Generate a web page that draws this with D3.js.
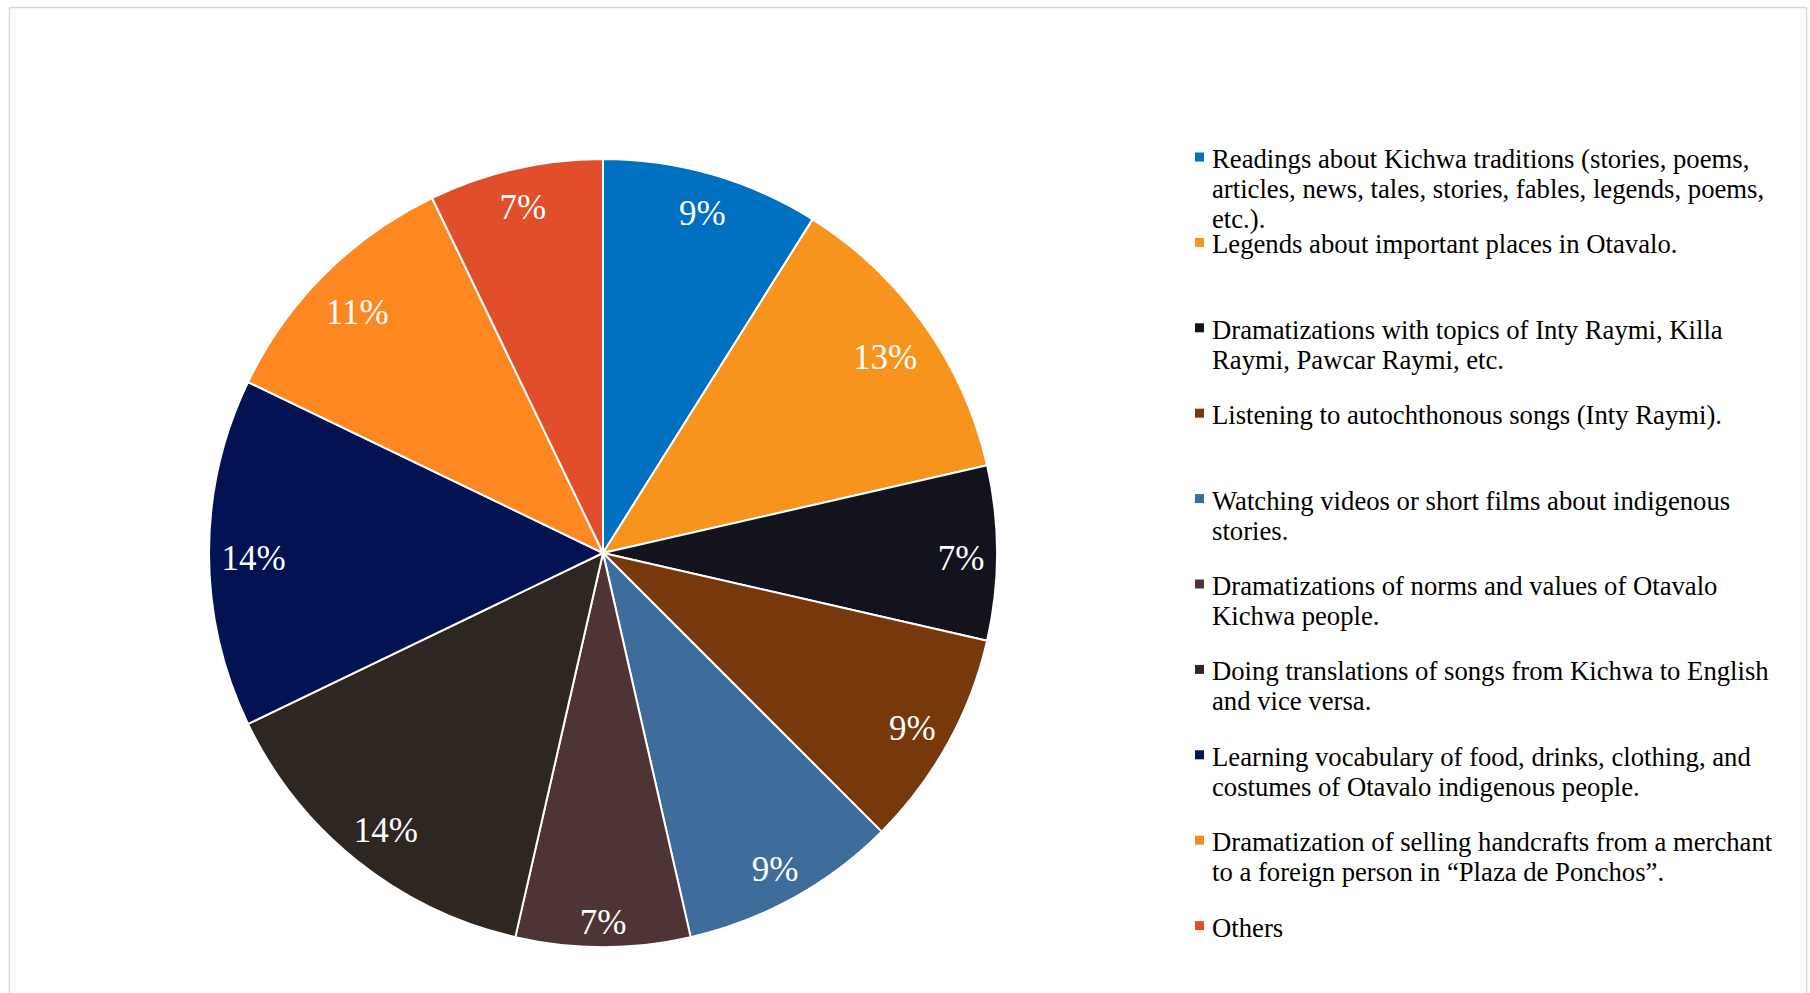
<!DOCTYPE html>
<html>
<head>
<meta charset="utf-8">
<script src="https://cdn.jsdelivr.net/npm/d3@7"></script>
<style>
  html, body { margin: 0; padding: 0; background: #fff; }
  svg { display: block; }
</style>
</head>
<body>
<svg id="chart" width="1810" height="993"></svg>
<script>
// Activity categories (legend text, with its line breaks)
const categories = [
  "Readings about Kichwa traditions (stories, poems,\narticles, news, tales, stories, fables, legends, poems,\netc.).",
  "Legends about important places in Otavalo.",
  "Dramatizations with topics of Inty Raymi, Killa\nRaymi, Pawcar Raymi, etc.",
  "Listening to autochthonous songs (Inty Raymi).",
  "Watching videos or short films about indigenous\nstories.",
  "Dramatizations of norms and values of Otavalo\nKichwa people.",
  "Doing translations of songs from Kichwa to English\nand vice versa.",
  "Learning vocabulary of food, drinks, clothing, and\ncostumes of Otavalo indigenous people.",
  "Dramatization of selling handcrafts from a merchant\nto a foreign person in \u201cPlaza de Ponchos\u201d.",
  "Others"
];

// Number of responses per activity (56 in total)
const responses = [5, 7, 4, 5, 5, 4, 8, 8, 6, 4];

const sliceColors = [
  "#0070C0", "#F7941D", "#12131D", "#77390B", "#3E6C9B",
  "#4F3435", "#2E2620", "#021253", "#FD8721", "#E04E2B"
];

const svg = d3.select("#chart");
const W = 1810, H = 993;

// Light outer frame
svg.append("rect")
  .attr("x", 9.5).attr("y", 7.5)
  .attr("width", 1797).attr("height", H + 10)
  .attr("fill", "#fff")
  .attr("stroke", "#d9d9d9")
  .attr("stroke-width", 1.5);

const cx = 603, cy = 553, radius = 394;
const total = d3.sum(responses);

const color = d3.scaleOrdinal().domain(d3.range(categories.length)).range(sliceColors);

const pie = d3.pie().value(d => d.value).sort(null);
const arcs = pie(responses.map((v, i) => ({ value: v, index: i })));
const arc = d3.arc().innerRadius(0).outerRadius(radius);

const g = svg.append("g").attr("transform", `translate(${cx},${cy})`);

g.selectAll("path.slice")
  .data(arcs)
  .join("path")
  .attr("class", "slice")
  .attr("d", arc)
  .attr("fill", d => color(d.data.index))
  .attr("stroke", "#fff")
  .attr("stroke-width", 2)
  .attr("stroke-linejoin", "round");

// Percentage labels: each label box is pushed out along the slice's mid-angle
// until it touches an inner margin of the rim; glyphs sit slightly low in the box.
const labelFont = 35;
const rimPad = 12, glyphDrop = 5;
const labels = g.selectAll("text.pct")
  .data(arcs)
  .join("text")
  .attr("class", "pct")
  .attr("font-family", "'Liberation Serif', 'Times New Roman', serif")
  .attr("font-size", labelFont)
  .attr("fill", "#fff")
  .attr("text-anchor", "middle")
  .attr("dominant-baseline", "central")
  .text(d => Math.round(d.data.value / total * 100) + "%");

labels.each(function(d) {
  const bb = this.getBBox();
  const w = bb.width, h = labelFont * 0.95;
  const a = (d.startAngle + d.endAngle) / 2;
  const ux = Math.sin(a), uy = -Math.cos(a);
  const limit = radius - rimPad;
  let dist = radius;
  for (let t = radius; t > 0; t -= 0.5) {
    const x = ux * t, y = uy * t;
    const corners = [[x - w/2, y - h/2], [x + w/2, y - h/2], [x - w/2, y + h/2], [x + w/2, y + h/2]];
    if (corners.every(c => Math.hypot(c[0], c[1]) <= limit)) { dist = t; break; }
  }
  d3.select(this).attr("x", ux * dist).attr("y", uy * dist + glyphDrop);
});

// Legend
const legendX = 1195, legendY = 159, entryStep = 85.4, lineStep = 30, legendFont = 26.7, markerSize = 9;
const legend = svg.append("g");
const entries = legend.selectAll("g.entry")
  .data(categories)
  .join("g")
  .attr("class", "entry")
  .attr("transform", (d, i) => `translate(${legendX},${legendY + i * entryStep})`);

entries.append("rect")
  .attr("x", 0).attr("y", -markerSize / 2 - 2)
  .attr("width", markerSize).attr("height", markerSize)
  .attr("fill", (d, i) => color(i));

entries.append("text")
  .attr("font-family", "'Liberation Serif', 'Times New Roman', serif")
  .attr("font-size", legendFont)
  .attr("fill", "#000")
  .selectAll("tspan")
  .data(d => d.split("\n"))
  .join("tspan")
  .attr("x", 17)
  .attr("y", (d, j) => j * lineStep)
  .attr("dominant-baseline", "central")
  .text(d => d);
</script>
</body>
</html>
